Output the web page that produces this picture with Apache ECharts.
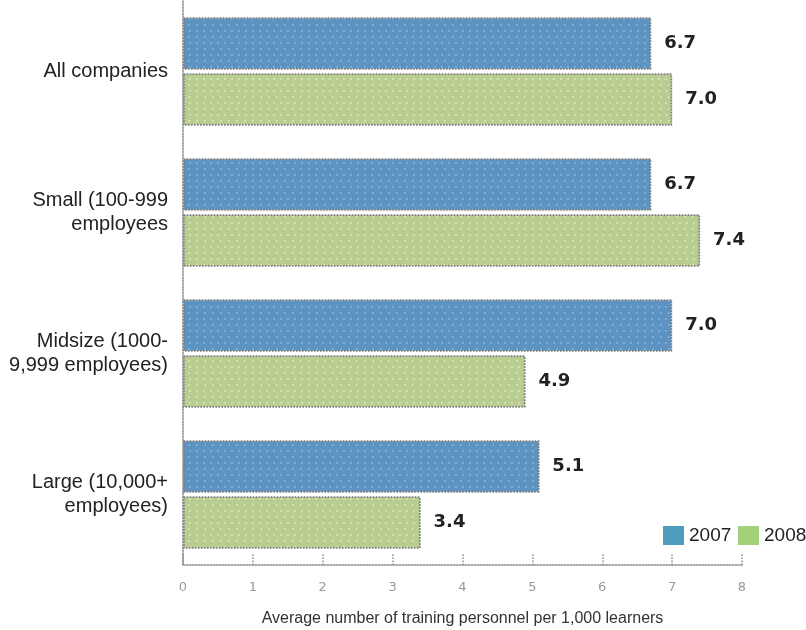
<!DOCTYPE html>
<html>
<head>
<meta charset="utf-8">
<script src="https://cdn.jsdelivr.net/npm/echarts@6/dist/echarts.min.js"></script>
<style>
  html, body { margin: 0; padding: 0; background: #ffffff; }
  #chart { width: 806px; height: 630px; }
</style>
</head>
<body>
<div id="chart"></div>
<script>
// Company-size groups, listed top to bottom
const categories = [
  'All companies',
  'Small (100-999\nemployees',
  'Midsize (1000-\n9,999 employees)',
  'Large (10,000+\nemployees)'
];
const seriesNames = ['2007', '2008'];
const values2007 = [6.7, 6.7, 7.0, 5.1];
const values2008 = [7.0, 7.4, 4.9, 3.4];
const tickValues = [0, 1, 2, 3, 4, 5, 6, 7, 8];
const axisTitle = 'Average number of training personnel per 1,000 learners';

const textFont = '"Liberation Sans", "Noto Sans", sans-serif';
const legendColors = ['#4f9dbd', '#a3d07a'];

function barSeries(name, data, fill, dotColor) {
  return {
    name: name,
    type: 'bar',
    data: data,
    barWidth: 52,
    barGap: '8%',
    itemStyle: {
      color: fill,
      borderColor: '#7f7f7f',
      borderWidth: 1.5,
      borderType: 'dotted',
      decal: {
        symbol: 'circle',
        symbolSize: 0.9,
        dashArrayX: [[2, 4.5], [0, 3.25, 2, 1.25]],
        dashArrayY: [2, 3.5],
        color: dotColor
      }
    },
    label: {
      show: true,
      position: 'right',
      distance: 13,
      formatter: p => p.value.toFixed(1),
      fontFamily: '"DejaVu Sans", sans-serif',
      fontWeight: 'bold',
      fontSize: 18,
      color: '#222222'
    }
  };
}

// One legend block per year so both swatches sit on a single row
function legendBlock(idx, left) {
  return {
    left: left,
    top: 526,
    padding: 0,
    itemWidth: 21,
    itemHeight: 19,
    icon: 'rect',
    textStyle: { fontFamily: textFont, fontSize: 19, color: '#222222' },
    data: [{ name: seriesNames[idx], itemStyle: { color: legendColors[idx], borderWidth: 0, decal: 'none' } }]
  };
}

const chart = echarts.init(document.getElementById('chart'), null, { renderer: 'canvas' });
chart.setOption({
  animation: false,
  backgroundColor: '#ffffff',
  grid: { left: 183, right: 64, top: 1, bottom: 65, outerBoundsMode: 'none', containLabel: false },
  legend: [legendBlock(0, 663), legendBlock(1, 738)],
  xAxis: {
    type: 'value',
    min: tickValues[0],
    max: tickValues[tickValues.length - 1],
    interval: 1,
    splitLine: { show: false },
    axisLine: { show: true, lineStyle: { color: '#8a8a8a', width: 1.5, type: 'dotted' } },
    axisTick: { show: true, inside: true, length: 12, lineStyle: { color: '#8a8a8a', width: 1.5, type: 'dotted' } },
    axisLabel: { margin: 16, fontFamily: '"DejaVu Sans", sans-serif', fontSize: 13, color: '#9a9a9a' },
    name: axisTitle,
    nameLocation: 'middle',
    nameGap: 46,
    nameTextStyle: { fontFamily: textFont, fontSize: 16, color: '#333333' }
  },
  yAxis: {
    type: 'category',
    data: categories,
    inverse: true,
    axisLine: { show: true, lineStyle: { color: '#8a8a8a', width: 1.5, type: 'dotted' } },
    axisTick: { show: false },
    axisLabel: {
      margin: 15,
      fontFamily: textFont,
      fontSize: 20,
      lineHeight: 24,
      color: '#222222',
      align: 'right'
    }
  },
  series: [
    barSeries(seriesNames[0], values2007, '#5e92c1', 'rgba(125,205,235,0.75)'),
    barSeries(seriesNames[1], values2008, '#b8cd92', 'rgba(240,236,185,0.85)')
  ]
});
</script>
</body>
</html>
